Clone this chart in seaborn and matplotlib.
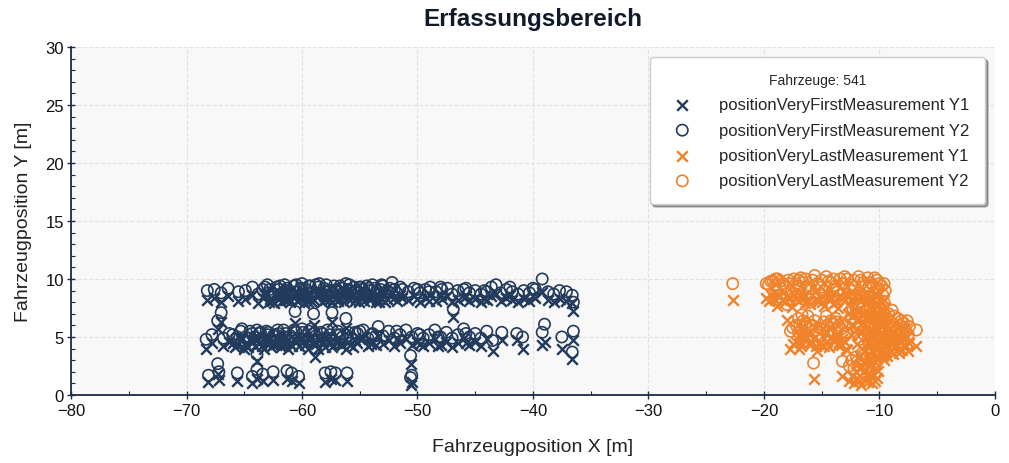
import matplotlib
matplotlib.use("Agg")
import matplotlib.pyplot as plt
import seaborn as sns
import pandas as pd
from matplotlib.ticker import MultipleLocator

# ---------------- data ----------------
first_x = [
    # upper lane
    -68.2, -67.6, -67.0, -66.4, -65.5, -64.9, -64.3, -63.8, -63.4, -63.0,
    -62.6, -62.2, -61.8, -61.5, -61.1, -60.7, -60.4, -60.0, -59.7, -59.3,
    -59.0, -58.6, -58.3, -57.9, -57.6, -57.2, -56.9, -56.5, -56.2, -55.8,
    -55.5, -55.1, -54.8, -54.4, -54.1, -53.7, -53.3, -53.0, -52.6, -52.2,
    -51.8, -51.3, -50.8, -50.3, -49.8, -49.3, -48.9, -48.4, -47.9, -47.4,
    -47.0, -46.5, -46.0, -45.5, -45.0, -44.5, -44.0, -43.6, -43.2, -42.8,
    -42.3, -41.8, -41.3, -40.8, -40.3, -39.8, -39.2, -38.7, -38.2, -37.7,
    -37.1, -36.6, -36.5, -46.9,
    -62.9, -62.0, -61.3, -60.2, -59.5, -58.8, -58.0, -57.4, -56.7, -56.0,
    -55.3, -54.6, -53.9, -53.5, -52.8, -52.4,
    -60.6, -59.0, -57.4, -56.2,
    -63.2, -62.8, -62.4, -61.9, -61.6, -61.0, -60.5, -60.1, -59.8, -59.1,
    -58.5, -58.1, -57.7, -57.0, -56.4, -55.9, -55.4, -54.9, -54.2, -53.6,
    -53.1, -52.0, -51.5, -50.0, -49.0, -48.0, -45.8, -44.2, -42.0, -40.0,
    -61.4, -59.4, -57.1, -55.0, -53.2,
    # middle lane
    -68.3, -67.8, -67.3, -67.0, -66.8, -66.3, -65.8, -65.3, -64.9, -64.5,
    -64.1, -63.7, -63.3, -62.9, -62.5, -62.1, -61.8, -61.4, -61.0, -60.7,
    -60.3, -59.9, -59.5, -59.2, -58.8, -58.4, -58.0, -57.6, -58.9, -56.9,
    -56.5, -56.0, -55.6, -55.2, -54.7, -54.3, -53.9, -53.4, -53.0, -52.5,
    -52.0, -51.5, -51.0, -50.5, -50.0, -49.5, -49.0, -48.5, -48.0, -47.5,
    -47.0, -46.5, -46.0, -45.5, -45.0, -44.5, -44.0, -43.5, -42.7, -41.4,
    -40.9, -39.2, -39.0, -37.5, -36.5, -36.6, -63.9,
    -65.0, -63.0, -61.2, -60.0, -58.6, -57.8, -56.2, -55.0, -54.0, -62.0,
    -59.7,
    -66.0, -65.6, -65.2, -64.7, -64.3, -63.9, -63.5, -63.1, -62.7, -62.3,
    -61.6, -60.9, -60.5, -59.4, -58.2, -57.4, -56.7, -55.4, -53.6, -51.8,
    -49.8, -48.2, -45.8,
    -63.6, -61.5, -59.0, -57.0, -55.8,
    # low points
    -68.1, -67.3, -67.2, -65.6, -64.3, -63.9, -63.4, -62.5, -61.3, -60.9,
    -60.3, -58.0, -57.5, -57.1, -56.1, -50.6, -50.6, -50.5,
]
first_y1 = [
    8.2, 8.4, 8.0, 8.5, 8.1, 8.3, 8.6, 7.9, 8.4, 8.7,
    8.1, 8.5, 8.0, 8.8, 8.3, 8.6, 8.1, 8.9, 8.4, 8.7,
    8.2, 8.5, 8.0, 8.8, 8.3, 8.6, 8.1, 8.5, 8.8, 8.2,
    8.6, 8.0, 8.4, 8.7, 8.2, 8.5, 8.0, 8.6, 8.3, 8.8,
    8.1, 8.4, 8.2, 8.5, 8.0, 8.4, 8.6, 8.1, 8.3, 8.5,
    8.0, 8.2, 8.4, 8.1, 8.3, 8.0, 8.2, 8.5, 8.7, 8.1,
    8.4, 8.2, 8.0, 8.3, 8.1, 8.4, 8.9, 8.2, 8.0, 8.3,
    8.1, 7.9, 7.2, 6.7,
    8.0, 8.3, 8.5, 8.3, 8.0, 8.7, 8.2, 8.0, 8.7, 8.4,
    8.3, 8.1, 8.8, 8.3, 8.0, 8.5,
    6.2, 6.0, 6.3, 5.8,
    8.6, 8.3, 7.9, 8.6, 8.2, 8.0, 8.8, 8.4, 7.9, 8.0,
    8.8, 8.5, 8.2, 8.4, 8.0, 8.7, 8.1, 8.6, 8.4, 8.0,
    8.8, 8.4, 8.6, 8.3, 8.1, 8.6, 8.5, 8.3, 8.6, 8.5,
    8.2, 8.6, 8.3, 8.5, 8.3,
    4.0, 4.5, 5.7, 6.3, 4.2, 4.6, 4.1, 4.7, 4.3, 4.8,
    4.2, 4.5, 4.0, 4.7, 4.3, 4.9, 4.1, 4.6, 4.4, 4.8,
    4.2, 4.6, 4.0, 4.9, 4.4, 4.7, 4.1, 4.5, 3.3, 4.8,
    4.3, 4.6, 4.1, 4.5, 4.9, 4.2, 4.6, 5.1, 4.4, 4.7,
    4.2, 4.5, 4.8, 4.3, 4.6, 4.2, 4.5, 4.8, 4.3, 4.6,
    4.1, 4.5, 4.9, 4.3, 4.6, 4.2, 4.8, 3.8, 4.7, 4.7,
    4.0, 4.3, 4.6, 4.0, 4.7, 3.1, 2.9,
    4.0, 4.4, 4.0, 4.9, 4.0, 4.8, 4.0, 4.8, 4.4, 4.5,
    4.3,
    4.5, 4.3, 4.9, 4.1, 4.6, 4.8, 4.2, 4.7, 4.1, 4.4,
    4.8, 4.2, 4.6, 4.7, 4.6, 4.1, 4.4, 4.7, 4.3, 4.8,
    4.4, 4.2, 4.5,
    4.6, 4.3, 4.6, 4.5, 4.3,
    1.1, 1.8, 1.3, 1.2, 1.0, 1.4, 1.2, 1.3, 1.4, 1.2,
    1.0, 1.1, 1.4, 1.3, 1.2, 2.7, 0.9, 1.1,
]
first_y2 = [
    9.0, 9.1, 8.8, 9.2, 8.9, 9.0, 9.3, 8.7, 9.1, 9.5,
    8.8, 9.3, 8.7, 9.5, 9.0, 9.4, 8.9, 9.6, 9.1, 9.4,
    8.9, 9.3, 8.8, 9.5, 9.0, 9.4, 8.9, 9.2, 9.6, 9.0,
    9.3, 8.8, 9.1, 9.4, 9.0, 9.2, 8.7, 9.4, 9.0, 9.7,
    8.8, 9.1, 8.9, 9.2, 8.8, 9.1, 9.3, 8.9, 9.1, 9.2,
    8.7, 9.0, 9.1, 8.8, 9.0, 8.7, 8.9, 9.3, 9.5, 8.8,
    9.1, 8.9, 8.7, 9.0, 8.8, 9.1, 10.0, 8.9, 8.7, 9.0,
    8.9, 8.6, 8.0, 7.4,
    8.8, 9.1, 9.2, 9.1, 8.8, 9.5, 8.9, 8.8, 9.4, 9.1,
    9.0, 8.8, 9.5, 9.0, 8.8, 9.2,
    7.2, 7.0, 7.1, 6.6,
    9.3, 9.1, 8.7, 9.4, 8.9, 8.8, 9.5, 9.2, 8.7, 8.8,
    9.6, 9.2, 9.0, 9.1, 8.8, 9.5, 8.9, 9.3, 9.2, 8.8,
    9.5, 9.1, 9.3, 9.1, 8.9, 9.3, 9.2, 9.0, 9.3, 9.2,
    9.0, 9.4, 9.0, 9.3, 9.1,
    4.8, 5.2, 6.4, 7.1, 4.9, 5.3, 4.8, 5.5, 5.0, 5.5,
    5.0, 5.3, 4.8, 5.4, 5.1, 5.6, 4.9, 5.3, 5.1, 5.6,
    4.9, 5.4, 4.8, 5.7, 5.1, 5.4, 4.9, 5.2, 4.0, 5.5,
    5.0, 5.4, 4.8, 5.3, 5.6, 4.9, 5.3, 5.9, 5.1, 5.5,
    4.9, 5.2, 5.6, 5.0, 5.3, 4.9, 5.2, 5.6, 5.0, 5.4,
    4.9, 5.2, 5.7, 5.0, 5.3, 4.9, 5.5, 4.7, 5.4, 5.3,
    5.0, 5.4, 6.1, 5.0, 5.5, 3.7, 3.5,
    4.7, 5.2, 4.7, 5.7, 4.7, 5.6, 4.8, 5.5, 5.2, 5.3,
    5.1,
    5.2, 5.0, 5.7, 4.9, 5.3, 5.6, 4.9, 5.5, 4.8, 5.2,
    5.6, 4.9, 5.4, 5.5, 5.3, 4.9, 5.2, 5.4, 5.1, 5.5,
    5.2, 5.0, 5.3,
    5.4, 5.0, 5.3, 5.2, 5.0,
    1.7, 2.7, 2.0, 1.9, 1.6, 2.2, 1.8, 2.0, 2.1, 1.9,
    1.6, 1.9, 2.0, 1.9, 1.9, 3.4, 1.5, 1.7,
]

last_x = [
    -22.7,
    # upper lane
    -19.8, -19.4, -19.0, -18.6, -18.2, -17.8, -17.4, -17.0, -16.6, -16.2,
    -15.8, -15.4, -15.0, -14.6, -14.2, -13.8, -13.4, -13.0, -12.6, -12.2,
    -11.8, -11.4, -11.0, -10.6, -10.2, -9.8, -9.5, -18.9, -17.6, -16.0,
    -14.8, -13.6, -12.0, -15.6, -16.8, -18.0, -16.7,
    -19.6, -19.2, -18.8, -18.4, -17.9, -17.2, -16.4, -15.2, -14.4, -14.0,
    -13.2, -12.8, -12.4, -11.6, -11.2, -10.8, -10.4, -10.0,
    -19.0, -17.0, -15.0, -13.0, -14.0, -16.4,
    # tall block
    -12.4, -12.0, -11.7, -11.4, -11.1, -10.8, -10.5, -10.2, -9.9, -9.6,
    -11.9, -11.3, -10.7, -10.1, -12.2, -10.9, -11.6, -10.4, -9.7,
    -12.3, -12.1, -11.8, -11.5, -11.2, -10.9, -10.6, -10.3, -10.0, -9.8,
    -11.0, -10.5,
    -11.9, -11.5, -11.1, -10.7, -10.3, -9.9, -12.5, -12.7, -10.1, -9.6,
    # right blob
    -11.0, -10.6, -10.2, -9.8, -9.4, -9.0, -8.6, -8.2, -7.8, -7.4,
    -9.2, -8.8, -8.4, -9.6, -8.0, -7.6, -6.8, -9.9, -8.9, -10.4,
    -10.8, -10.0, -9.5, -9.1, -8.7, -8.3, -7.9, -7.5, -9.3, -8.5,
    -10.5, -9.7,
    -9.5, -9.1, -8.7, -8.3, -7.9, -8.1, -10.9, -10.3, -9.3, -11.7,
    # middle lane
    -17.7, -17.2, -16.8, -16.4, -16.0, -15.6, -15.2, -14.8, -14.4, -14.0,
    -13.6, -13.2, -12.9, -16.2, -14.6, -13.8, -15.4, -17.0, -12.8,
    -17.5, -17.0, -16.6, -16.0, -15.5, -15.0, -14.5, -14.2, -13.7, -13.3,
    -13.0, -16.9, -15.8, -14.8, -13.5,
    # low cluster
    -15.7, -13.2, -12.6, -12.2, -11.9, -11.6, -11.3, -11.0, -10.7, -10.4,
    -10.1, -12.0, -11.5, -10.9,
    -12.4, -11.8, -11.1, -10.6, -10.2, -11.4,
]
last_y1 = [
    8.2,
    8.4, 8.6, 8.2, 8.5, 8.0, 8.3, 8.7, 8.1, 8.4, 8.0,
    8.6, 8.2, 8.5, 8.9, 8.3, 8.0, 8.6, 8.2, 7.8, 8.5,
    8.8, 8.3, 8.7, 8.1, 8.5, 8.0, 7.6, 7.7, 7.6, 7.8,
    7.7, 7.5, 7.2, 8.9, 8.8, 6.5, 5.6,
    8.1, 8.4, 8.7, 8.2, 8.6, 8.3, 8.6, 8.1, 8.4, 8.7,
    8.3, 8.6, 8.2, 8.5, 8.0, 8.4, 8.8, 8.2,
    8.8, 8.6, 8.0, 8.8, 7.8, 7.9,
    6.8, 5.6, 7.4, 6.2, 5.0, 7.0, 6.0, 7.6, 5.4, 6.6,
    4.4, 3.8, 4.8, 4.2, 7.9, 8.0, 5.3, 6.6, 7.2,
    6.0, 7.0, 6.5, 7.0, 5.8, 6.4, 5.2, 5.8, 6.2, 4.8,
    4.5, 7.4,
    6.4, 5.5, 6.8, 5.6, 6.9, 6.0, 5.2, 7.0, 7.8, 8.2,
    3.4, 3.9, 3.2, 4.4, 3.7, 4.9, 4.1, 4.6, 4.2, 4.5,
    5.6, 3.5, 5.2, 3.0, 3.9, 5.0, 4.2, 5.0, 6.0, 2.8,
    4.4, 3.6, 4.2, 3.8, 4.6, 3.6, 4.8, 3.8, 5.2, 4.3,
    5.2, 3.4,
    5.0, 4.5, 5.4, 4.0, 4.4, 5.0, 3.0, 4.6, 3.4, 3.4,
    4.0, 4.6, 4.2, 4.8, 4.3, 5.0, 4.4, 4.9, 4.1, 4.7,
    4.3, 4.8, 4.0, 5.3, 5.4, 5.2, 3.8, 5.2, 3.9,
    4.4, 4.0, 5.0, 4.6, 4.2, 4.3, 4.6, 5.0, 4.9, 4.3,
    4.6, 4.6, 4.6, 4.2, 4.6,
    1.4, 1.6, 1.2, 1.0, 1.5, 0.9, 1.3, 1.1, 1.7, 1.2,
    2.1, 2.0, 2.4, 2.6,
    1.6, 1.2, 1.8, 1.0, 1.5, 2.0,
]
last_y2 = [
    9.6,
    9.6, 9.8, 9.5, 9.8, 9.3, 9.6, 10.0, 9.4, 9.7, 9.3,
    9.9, 9.6, 9.9, 10.2, 9.7, 9.4, 10.0, 9.6, 9.2, 9.9,
    10.2, 9.7, 10.1, 9.5, 9.9, 9.4, 9.0, 9.0, 8.9, 9.2,
    9.0, 8.9, 8.6, 10.3, 10.1, 7.8, 6.9,
    9.5, 9.8, 10.0, 9.6, 9.9, 9.6, 10.0, 9.5, 9.8, 10.0,
    9.6, 10.0, 9.5, 9.9, 9.4, 9.7, 10.1, 9.6,
    10.0, 9.9, 9.3, 10.2, 9.1, 9.2,
    8.2, 7.0, 8.8, 7.6, 6.4, 8.4, 7.4, 9.0, 6.8, 8.0,
    5.8, 5.2, 6.2, 5.6, 9.3, 9.4, 6.7, 8.0, 8.6,
    7.4, 8.3, 7.9, 8.4, 7.2, 7.8, 6.6, 7.2, 7.6, 6.2,
    5.9, 8.8,
    7.8, 6.9, 8.2, 7.0, 8.3, 7.4, 6.6, 8.4, 9.2, 9.6,
    4.8, 5.3, 4.6, 5.8, 5.1, 6.3, 5.5, 6.0, 5.6, 5.9,
    7.0, 4.9, 6.6, 4.4, 5.3, 6.4, 5.6, 6.4, 7.3, 4.2,
    5.8, 5.0, 5.6, 5.2, 6.0, 5.0, 6.2, 5.2, 6.6, 5.7,
    6.6, 4.8,
    6.4, 5.9, 6.8, 5.4, 5.8, 6.4, 4.4, 6.0, 4.8, 4.8,
    5.5, 6.0, 5.6, 6.2, 5.7, 6.4, 5.8, 6.3, 5.5, 6.1,
    5.7, 6.2, 5.4, 6.8, 6.8, 6.6, 5.2, 6.6, 5.3,
    5.8, 5.4, 6.4, 6.0, 5.6, 5.7, 6.0, 6.4, 6.3, 5.7,
    6.0, 6.0, 6.0, 5.6, 6.0,
    2.75, 2.9, 2.5, 2.3, 2.9, 2.2, 2.6, 2.4, 3.0, 2.5,
    3.4, 3.3, 3.6, 3.9,
    3.0, 2.6, 3.2, 2.4, 2.9, 3.4,
]

series_labels = [
    "positionVeryFirstMeasurement Y1",
    "positionVeryFirstMeasurement Y2",
    "positionVeryLastMeasurement Y1",
    "positionVeryLastMeasurement Y2",
]
vehicle_count = 541

# ---------------- styling ----------------
NAVY = "#223a5c"
ORANGE = "#f0822a"

sns.set_theme(style="ticks")
plt.rcParams["font.family"] = ["Liberation Sans", "DejaVu Sans"]

fig = plt.figure(figsize=(10.09, 4.64), dpi=100)
ax = fig.add_axes([0.0704, 0.1466, 0.9156, 0.75])
ax.set_facecolor("#f8f8f8")

df_first = pd.DataFrame({"x": first_x, "y1": first_y1, "y2": first_y2})
df_last = pd.DataFrame({"x": last_x, "y1": last_y1, "y2": last_y2})

S_X, S_O = 58, 66
sns.scatterplot(data=df_first, x="x", y="y1", marker="x", color=NAVY, s=S_X,
                linewidth=1.7, ax=ax, label=series_labels[0], zorder=3)
sns.scatterplot(data=df_first, x="x", y="y2", marker="o", facecolor="none",
                edgecolor=NAVY, s=S_O, linewidth=1.2, ax=ax,
                label=series_labels[1], zorder=3)
sns.scatterplot(data=df_last, x="x", y="y1", marker="x", color=ORANGE, s=S_X,
                linewidth=1.7, ax=ax, label=series_labels[2], zorder=3)
sns.scatterplot(data=df_last, x="x", y="y2", marker="o", facecolor="none",
                edgecolor=ORANGE, s=S_O, linewidth=1.2, ax=ax,
                label=series_labels[3], zorder=3)

ax.set_xlim(-80, 0)
ax.set_ylim(0, 30)
ax.xaxis.set_major_locator(MultipleLocator(10))
ax.xaxis.set_minor_locator(MultipleLocator(5))
ax.yaxis.set_major_locator(MultipleLocator(5))
ax.yaxis.set_minor_locator(MultipleLocator(1))

ax.grid(True, which="major", linestyle="--", color="#e2e2e2", linewidth=0.8, zorder=0)
ax.set_axisbelow(True)

for side in ["top", "right"]:
    ax.spines[side].set_visible(False)
for side in ["left", "bottom"]:
    ax.spines[side].set_color("#1a2a44")
    ax.spines[side].set_linewidth(1.3)

ax.tick_params(axis="both", which="major", direction="inout", length=6,
               width=1.0, color="#1a2a44", labelsize=12, labelcolor="#111111")
ax.tick_params(axis="x", which="major", pad=3)
ax.tick_params(axis="y", which="major", pad=2)
ax.tick_params(axis="both", which="minor", direction="in", length=3,
               width=0.8, color="#1a2a44")

ax.set_xlabel("Fahrzeugposition X [m]", fontsize=14, color="#222222", labelpad=14)
ax.set_ylabel("Fahrzeugposition Y [m]", fontsize=14, color="#222222", labelpad=10)
ax.set_title("Erfassungsbereich", fontsize=17.5, fontweight="bold", color="#111a2a", pad=16)

leg = ax.legend(loc="upper right", title=f"Fahrzeuge: {vehicle_count}",
                fontsize=12, title_fontsize=10, frameon=True, shadow=True,
                fancybox=True, borderpad=0.95, labelspacing=0.62,
                handletextpad=1.2, markerscale=1.0,
                bbox_to_anchor=(0.9985, 0.995))
leg.get_frame().set_facecolor("white")
leg.get_frame().set_edgecolor("#cccccc")
leg.get_frame().set_alpha(1.0)

fig.savefig("out.png", dpi=100)
